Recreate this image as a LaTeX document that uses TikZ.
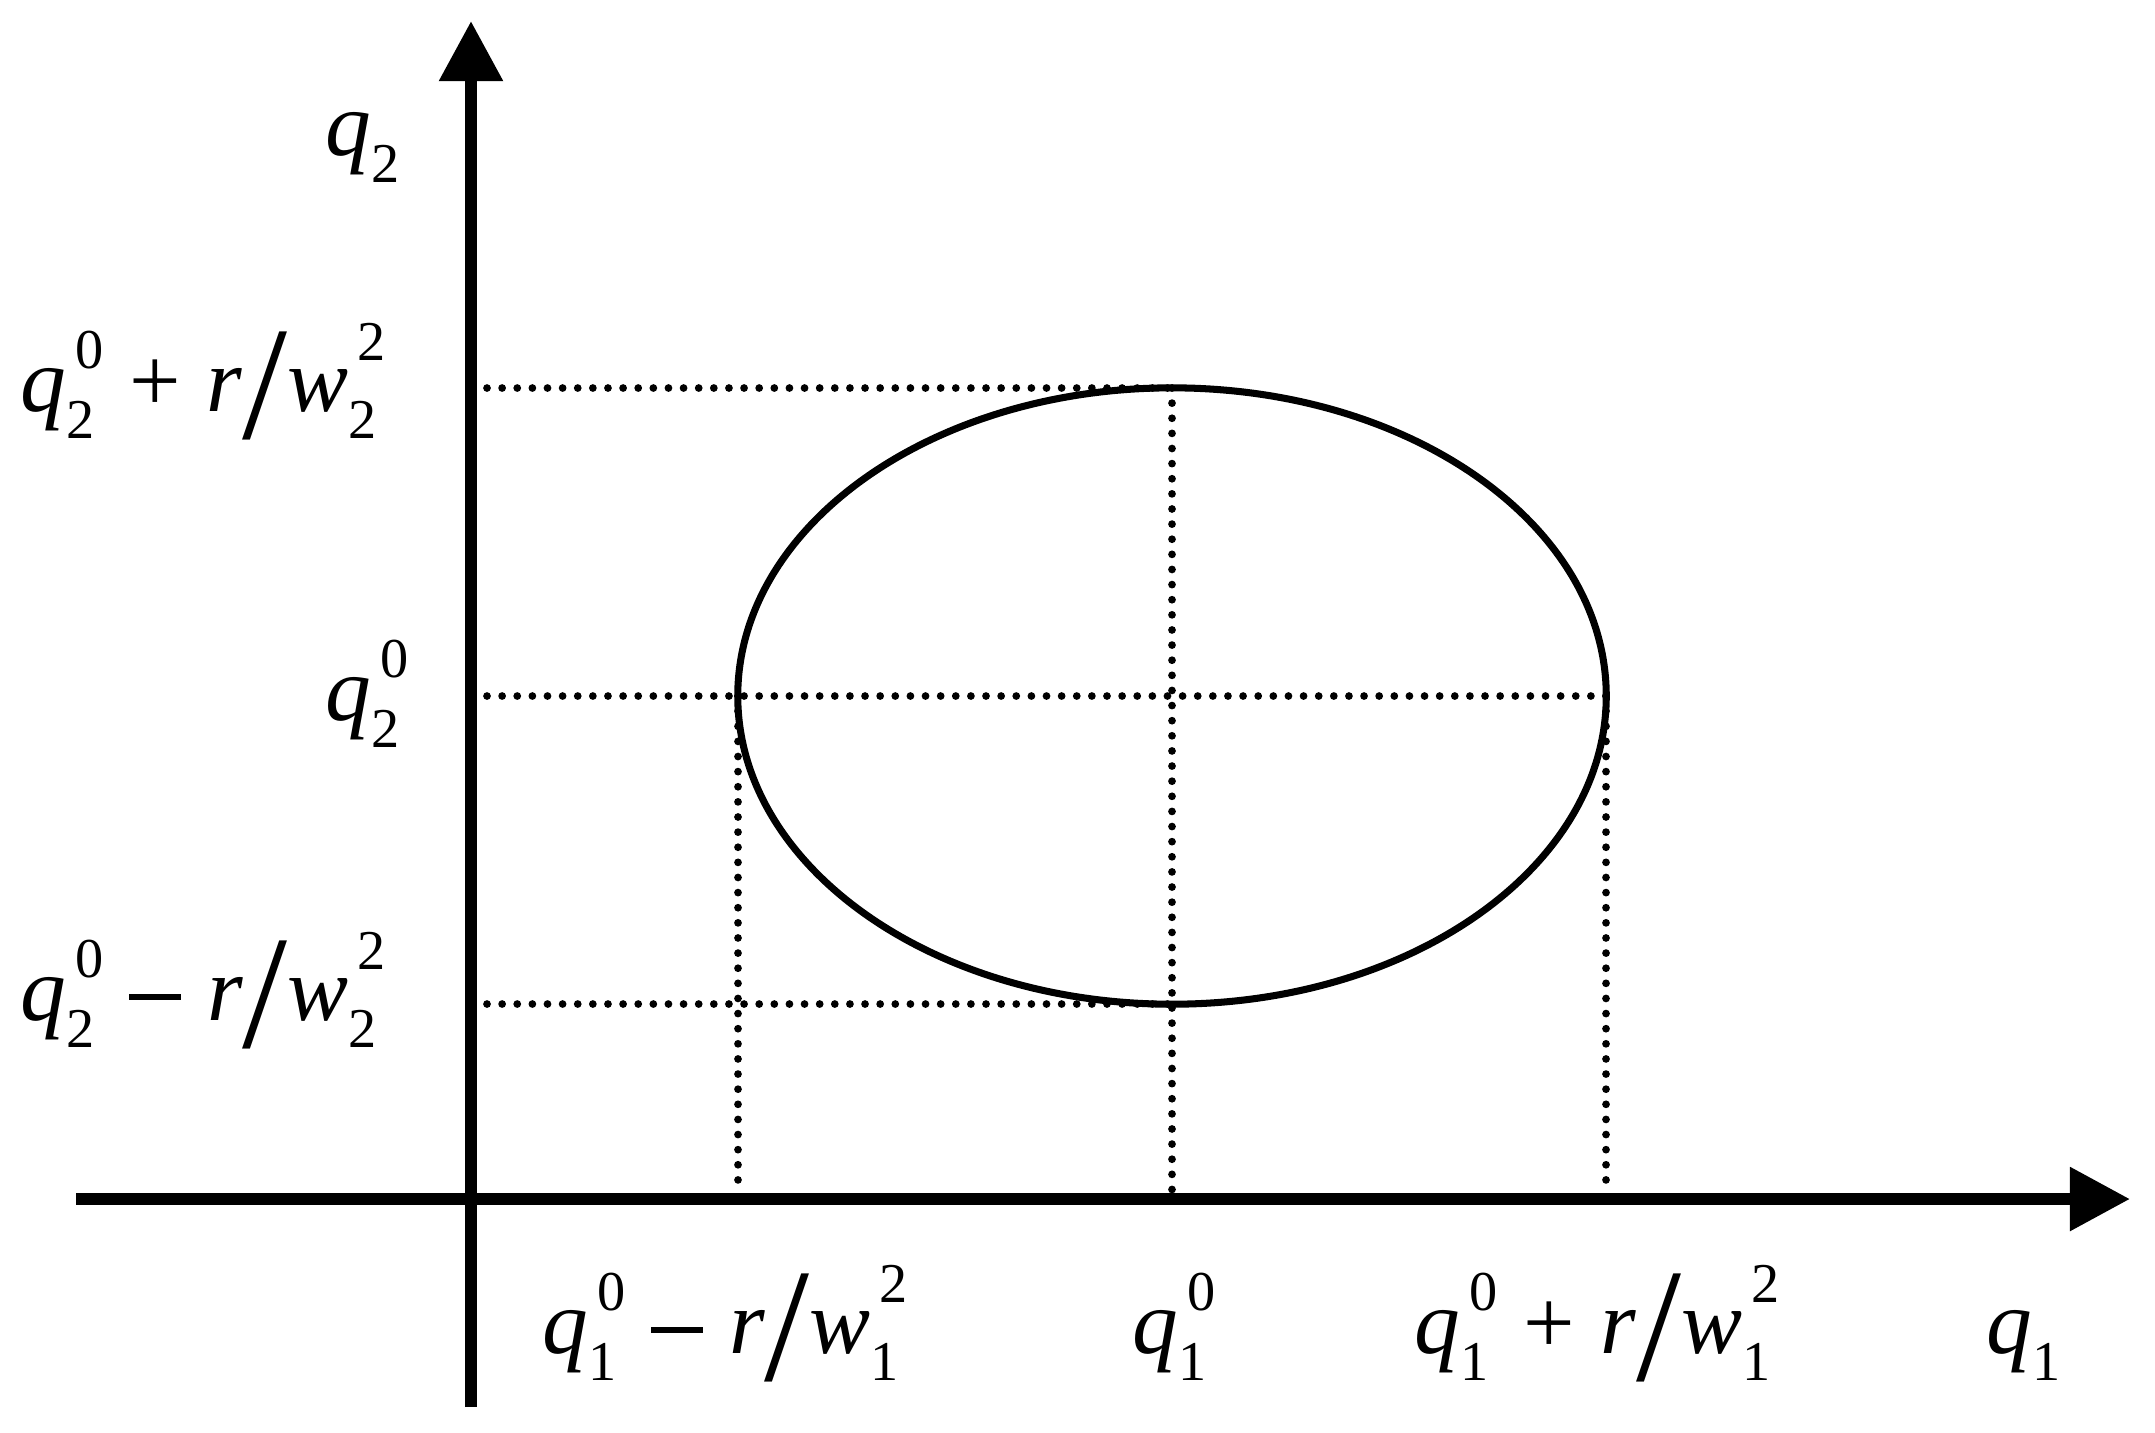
\documentclass[tikz,border=0pt]{standalone}
\usepackage{fontspec}
\setmainfont{Liberation Serif}
\usetikzlibrary{arrows.meta}
\newcommand\scr{\fontsize{16}{16}\selectfont}
\newcommand\lbl{\fontsize{26}{26}\selectfont}
% #2 = subscript, #3 = superscript
\newcommand\ssc[3][0.46em]{\makebox[0pt][l]{\kern0.1em\raisebox{#1}{\scr #3}}\raisebox{-0.3em}{\scr #2}}
\newcommand\qq[2]{\textit{q}\ssc{#1}{#2}}
\newcommand\qs[1]{\textit{q}\raisebox{-0.3em}{\scr #1}}
\newcommand\ww[1]{\textit{w}\ssc[0.55em]{#1}{2}}
\newcommand\myslash{\raisebox{-0.3em}{\fontsize{46}{46}\selectfont /}}
\newcommand\myop[1]{\hspace{0.38em}#1\hspace{0.28em}}
\newcommand\mymin{\rule[0.22em]{0.57em}{0.066em}}
\tikzset{
  axisline/.style={line width=3.4pt, -{Triangle[length=0.6cm,width=0.61cm]}},
  dotline/.style={line width=2.2pt, line cap=round, dash pattern=on 0pt off 4.3pt},
  curve/.style={line width=2pt},
  lab/.style={inner sep=0pt, anchor=base west, font=\lbl}
}
\begin{document}
\begin{tikzpicture}[x=0.01cm, y=-0.01cm]
\useasboundingbox (0,0) rectangle (2155,1432);
% key points
\coordinate (O) at (1172,696);
\coordinate (Et) at (1172,388);
\coordinate (Eb) at (1172,1004);
\coordinate (El) at (738,696);
\coordinate (Er) at (1606,696);
% axes
\coordinate (ybot) at (471,1407);
\coordinate (ytop) at (471,21);
\coordinate (xleft) at (76,1199);
\coordinate (xright) at (2130,1199);
\coordinate (yt) at (487,388);
\coordinate (ym) at (487,696);
\coordinate (yb) at (487,1004);
\coordinate (xl) at (738,1190);
\coordinate (xm) at (1172,1190);
\coordinate (xr) at (1606,1190);
% dotted guide lines
\draw[dotline] (yt) -- (Et);
\draw[dotline] (ym) -- (Er);
\draw[dotline] (yb) -- (Eb);
\draw[dotline] (Et) -- (xm);
\draw[dotline] (El) -- (xl);
\draw[dotline] (Er) -- (xr);
% ellipse
\draw[curve] (O) ellipse [x radius=4.34cm, y radius=3.08cm];
% axes
\draw[axisline] (xleft) -- (xright);
\draw[axisline] (ybot) -- (ytop);
% labels
\node[lab] (lq2) at (325,155) {\qs{2}};
\node[lab] (lq2p) at (20,411) {\qq{2}{0}\myop{+}\textit{r}\myslash\ww{2}};
\node[lab] (lq2o) at (325,720) {\qq{2}{0}};
\node[lab] (lq2m) at (20,1020) {\qq{2}{0}\myop{\mymin}\textit{r}\myslash\ww{2}};
\node[lab] (lq1m) at (542,1353) {\qq{1}{0}\myop{\mymin}\textit{r}\myslash\ww{1}};
\node[lab] (lq1o) at (1132,1353) {\qq{1}{0}};
\node[lab] (lq1p) at (1414,1353) {\qq{1}{0}\myop{+}\textit{r}\myslash\ww{1}};
\node[lab] (lq1) at (1986,1353) {\qs{1}};
\end{tikzpicture}
\end{document}
